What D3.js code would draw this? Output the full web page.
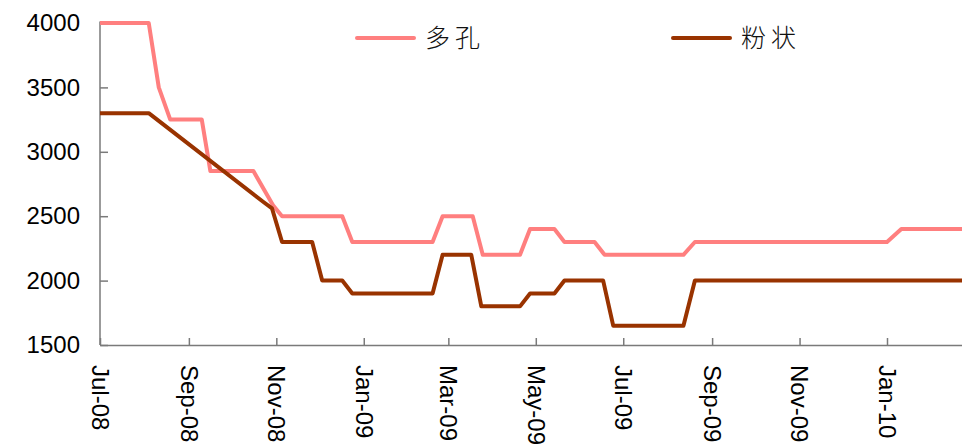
<!DOCTYPE html>
<html>
<head>
<meta charset="utf-8">
<script src="https://cdn.jsdelivr.net/npm/d3@7"></script>
<style>
  html, body { margin: 0; padding: 0; background: #fff; }
  svg { display: block; }
</style>
</head>
<body>
<svg id="chart" width="962" height="448"></svg>
<script>
// ---- data ----
const seriesNames = ["多孔", "粉状"];
const seriesColors = ["#FF7F7F", "#993300"];

const porousDates = ["2008-07-01","2008-08-04","2008-08-11","2008-08-19","2008-09-10","2008-09-16","2008-10-16","2008-10-30","2008-11-05","2008-12-17","2008-12-24","2009-02-18","2009-02-25","2009-03-18","2009-03-25","2009-04-20","2009-04-27","2009-05-14","2009-05-21","2009-06-11","2009-06-18","2009-08-12","2009-08-20","2010-01-01","2010-01-11","2010-02-23"];
const porousValues = [4000,4000,3500,3250,3250,2850,2850,2580,2500,2500,2300,2300,2500,2500,2200,2200,2400,2400,2300,2300,2200,2200,2300,2300,2400,2400];

const powderDates = ["2008-07-01","2008-08-04","2008-10-23","2008-10-29","2008-11-05","2008-11-26","2008-12-03","2008-12-17","2008-12-24","2009-02-18","2009-02-25","2009-03-17","2009-03-24","2009-04-20","2009-04-27","2009-05-14","2009-05-21","2009-06-17","2009-06-24","2009-08-12","2009-08-20","2010-02-23"];
const powderValues = [3300,3300,2610,2560,2300,2300,2000,2000,1900,1900,2200,2200,1800,1800,1900,1900,2000,2000,1650,1650,2000,2000];

const yTicks = [1500, 2000, 2500, 3000, 3500, 4000];

// ---- drawing ----
const parse = d3.timeParse("%Y-%m-%d");
const svg = d3.select("#chart");

const x0 = d3.scaleTime()
  .domain([parse("2008-07-01"), parse("2010-01-01")])
  .range([100, 887]);
const x = d3.scaleTime()
  .domain([parse("2008-07-01"), x0.invert(962)])
  .range([100, 962]);
const y = d3.scaleLinear().domain([1500, 4000]).range([345, 23]);

const axisColor = "#7a7a7a";

// Y axis
const gy = svg.append("g").attr("transform", "translate(100,0)")
  .call(d3.axisLeft(y).tickValues(yTicks).tickFormat(d3.format("d"))
    .tickSize(-8).tickSizeOuter(0).tickPadding(20));
gy.select(".domain").attr("stroke", axisColor).attr("stroke-width", 1.5)
  .attr("d", `M0,${y(4000) - 1.5}V${y(1500)}`);
gy.selectAll(".tick line").attr("stroke", axisColor).attr("stroke-width", 1.5);
gy.selectAll(".tick text")
  .attr("font-family", "Liberation Sans, Arial, sans-serif")
  .attr("font-size", 24).attr("fill", "#000");

// X axis
const xTickDates = d3.timeMonth.range(parse("2008-07-01"), x.domain()[1], 2);
const gx = svg.append("g").attr("transform", "translate(0,345)")
  .call(d3.axisBottom(x).tickValues(xTickDates).tickFormat(d3.timeFormat("%b-%y"))
    .tickSize(-7).tickSizeOuter(0));
gx.select(".domain").attr("stroke", axisColor).attr("stroke-width", 1.5);
gx.selectAll(".tick line").attr("stroke", axisColor).attr("stroke-width", 1.5);
gx.selectAll(".tick text")
  .attr("font-family", "Liberation Sans, Arial, sans-serif")
  .attr("font-size", 24).attr("fill", "#000")
  .attr("text-anchor", "start")
  .attr("x", 20).attr("y", 0).attr("dy", "0.36em")
  .attr("transform", "rotate(90)");

// lines
const line = d3.line().x(d => x(d[0])).y(d => y(d[1]));
const porous = porousDates.map((d, i) => [parse(d), porousValues[i]]);
const powder = powderDates.map((d, i) => [parse(d), powderValues[i]]);

svg.append("path").datum(porous)
  .attr("fill", "none").attr("stroke", seriesColors[0])
  .attr("stroke-width", 4).attr("stroke-linejoin", "round")
  .attr("d", line);
svg.append("path").datum(powder)
  .attr("fill", "none").attr("stroke", seriesColors[1])
  .attr("stroke-width", 4).attr("stroke-linejoin", "round")
  .attr("d", line);

// legend
const legendX = [357, 673];
seriesNames.forEach((name, i) => {
  const g = svg.append("g").attr("transform", `translate(${legendX[i]},38)`);
  g.append("line").attr("x1", 0).attr("x2", 57).attr("y1", 0).attr("y2", 0)
    .attr("stroke", seriesColors[i]).attr("stroke-width", 4).attr("stroke-linecap", "round");
  g.append("text").attr("x", 68).attr("y", 0).attr("dy", "0.36em")
    .attr("font-family", "Noto Sans CJK SC, sans-serif")
    .attr("font-size", 25).attr("font-weight", 300).attr("letter-spacing", "5px").attr("fill", "#111")
    .text(name);
});
</script>
</body>
</html>
